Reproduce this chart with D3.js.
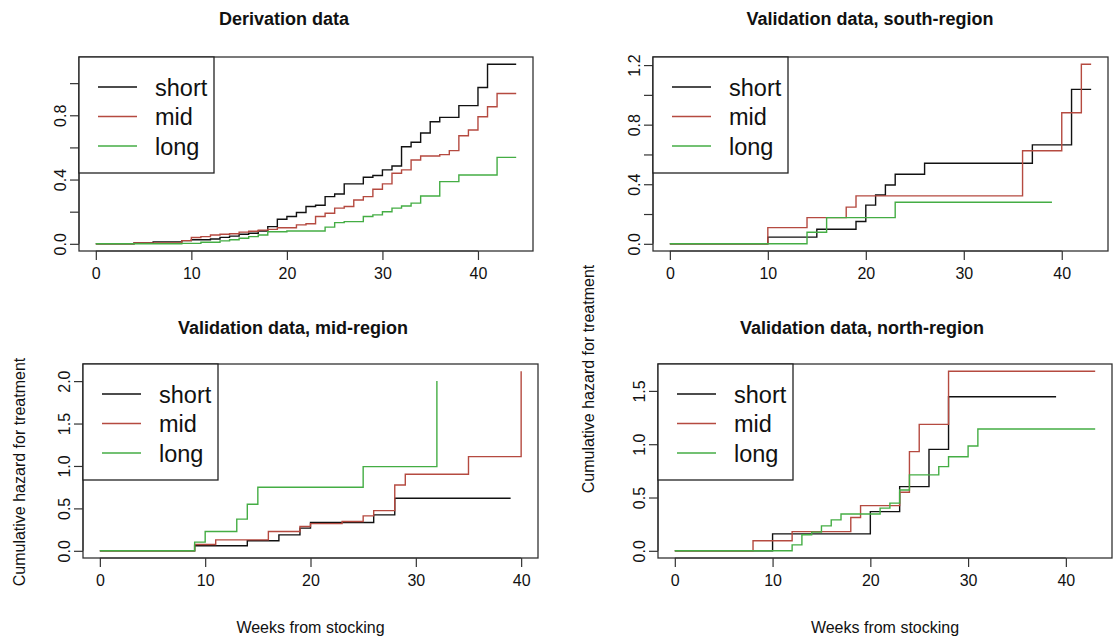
<!DOCTYPE html>
<html>
<head>
<meta charset="utf-8">
<script src="https://cdn.jsdelivr.net/npm/d3@7"></script>
<style>
  html, body { margin: 0; padding: 0; background: #fff; }
  svg text { font-family: "Liberation Sans", Arial, sans-serif; fill: #111; }
</style>
</head>
<body>
<svg id="chart" width="1115" height="642"></svg>
<script>
// Cumulative hazard step functions: [week, cumulative hazard] at each jump.
// Last entry of each series gives the follow-up end (flat to that week).
const seriesNames = ["short", "mid", "long"];
const seriesColors = ["#111111", "#b54a40", "#44ad44"];

// Derivation data
const derivShort = [[0,0],[4,0.006],[6,0.012],[9,0.02],[10,0.025],[12,0.03],[13,0.04],[14,0.048],[15,0.06],[16,0.066],[17,0.08],[18,0.107],[19,0.153],[20,0.17],[21,0.195],[22,0.232],[23,0.24],[24,0.294],[25,0.31],[26,0.373],[28,0.414],[29,0.425],[30,0.46],[31,0.484],[32,0.604],[33,0.632],[34,0.69],[35,0.76],[36,0.787],[38,0.86],[40,0.973],[41,1.118],[44,1.118]];
const derivMid = [[0,0],[4,0.006],[9,0.02],[10,0.039],[11,0.045],[12,0.055],[13,0.06],[14,0.063],[15,0.073],[16,0.078],[17,0.085],[18,0.09],[19,0.1],[21,0.118],[22,0.125],[23,0.17],[24,0.19],[25,0.222],[26,0.232],[27,0.273],[28,0.294],[29,0.34],[30,0.373],[31,0.439],[32,0.46],[33,0.522],[34,0.547],[36,0.555],[37,0.58],[38,0.673],[39,0.708],[40,0.791],[41,0.853],[42,0.936],[44,0.936]];
const derivLong = [[0,0],[9,0.003],[11,0.01],[13,0.018],[14,0.025],[15,0.035],[16,0.045],[17,0.055],[18,0.075],[20,0.08],[24,0.104],[25,0.132],[26,0.138],[28,0.17],[29,0.18],[30,0.2],[31,0.222],[32,0.235],[33,0.253],[34,0.298],[36,0.387],[38,0.428],[42,0.538],[44,0.538]];

// Validation data, south-region
const southShort = [[0,0],[10,0.045],[15,0.098],[19,0.15],[20,0.26],[21,0.328],[22,0.395],[23,0.467],[26,0.541],[37,0.664],[41,1.037],[43,1.037]];
const southMid = [[0,0],[10,0.109],[14,0.176],[18,0.246],[19,0.322],[36,0.625],[40,0.88],[42,1.206],[43,1.206]];
const southLong = [[0,0],[14,0.078],[16,0.176],[23,0.279],[39,0.279]];

// Validation data, mid-region
const midShort = [[0,0],[9,0.059],[14,0.118],[17,0.188],[19,0.267],[20,0.333],[26,0.424],[28,0.62],[39,0.62]];
const midMid = [[0,0],[9,0.075],[11,0.129],[16,0.227],[19,0.286],[20,0.32],[23,0.345],[25,0.412],[26,0.474],[28,0.776],[29,0.902],[35,1.11],[40,2.117]];
const midLong = [[0,0],[9,0.102],[10,0.227],[13,0.373],[14,0.549],[15,0.749],[25,0.992],[32,2.0]];

// Validation data, north-region
const northShort = [[0,0],[10,0.159],[20,0.368],[23,0.602],[26,0.952],[28,1.445],[39,1.445]];
const northMid = [[0,0],[8,0.094],[12,0.18],[18,0.312],[19,0.424],[23,0.55],[24,0.93],[25,1.186],[28,1.685],[43,1.685]];
const northLong = [[0,0],[12,0.056],[13,0.15],[14,0.175],[15,0.234],[16,0.29],[17,0.346],[21,0.4],[22,0.447],[23,0.571],[24,0.712],[27,0.79],[28,0.883],[30,0.983],[31,1.142],[43,1.142]];

// Axis ticks and labels per panel
const xTicks = [0, 10, 20, 30, 40];
const derivYTicks = [0, 0.2, 0.4, 0.6, 0.8, 1.0];
const derivYLabels = [0, 0.4, 0.8];
const southYTicks = [0, 0.2, 0.4, 0.6, 0.8, 1.0, 1.2];
const southYLabels = [0, 0.4, 0.8, 1.2];
const midYTicks = [0, 0.5, 1.0, 1.5, 2.0];
const northYTicks = [0, 0.5, 1.0, 1.5];

const panels = [
  { title: "Derivation data", titleX: 284, titleY: 25,
    box: { l: 79, r: 533, t: 57, b: 251 },
    series: [derivShort, derivMid, derivLong], yTicks: derivYTicks, yLabels: derivYLabels },
  { title: "Validation data, south-region", titleX: 870, titleY: 25,
    box: { l: 653, r: 1108, t: 57, b: 251 },
    series: [southShort, southMid, southLong], yTicks: southYTicks, yLabels: southYLabels },
  { title: "Validation data, mid-region", titleX: 293, titleY: 334,
    box: { l: 83, r: 538, t: 364, b: 558 },
    series: [midShort, midMid, midLong], yTicks: midYTicks, yLabels: midYTicks },
  { title: "Validation data, north-region", titleX: 862, titleY: 334,
    box: { l: 658, r: 1112, t: 364, b: 558 },
    series: [northShort, northMid, northLong], yTicks: northYTicks, yLabels: northYTicks }
];

const svg = d3.select("#chart");
const fmt = d3.format(".1f");

panels.forEach(p => {
  const { l, r, t, b } = p.box;
  const xMax = d3.max(p.series, s => d3.max(s, d => d[0]));
  const yMax = d3.max(p.series, s => d3.max(s, d => d[1]));
  // R-style 4% padding on both ends of the data range
  const x = d3.scaleLinear().domain([-0.04 * xMax, 1.04 * xMax]).range([l, r]);
  const y = d3.scaleLinear().domain([-0.04 * yMax, 1.04 * yMax]).range([b, t]);

  const g = svg.append("g");

  // step curves
  const line = d3.line().x(d => x(d[0])).y(d => y(d[1])).curve(d3.curveStepAfter);
  p.series.forEach((s, i) => {
    g.append("path").datum(s)
      .attr("d", line)
      .attr("fill", "none")
      .attr("stroke", seriesColors[i])
      .attr("stroke-width", 1.4);
  });

  // x axis
  const xAxis = d3.axisBottom(x).tickValues(xTicks).tickSize(9).tickPadding(8).tickFormat(d3.format("d"));
  const xg = g.append("g").attr("transform", `translate(0,${b})`).call(xAxis);
  xg.select(".domain").attr("d", `M${x(xTicks[0])},0H${x(xTicks[xTicks.length - 1])}`)
    .attr("stroke", "#333").attr("stroke-width", 1.2);
  xg.selectAll(".tick line").attr("stroke", "#333").attr("stroke-width", 1.2);
  xg.selectAll(".tick text").attr("font-size", 16).attr("fill", "#222");

  // y axis with rotated labels
  const yAxis = d3.axisLeft(y).tickValues(p.yTicks).tickSize(9)
    .tickFormat(d => p.yLabels.some(v => Math.abs(v - d) < 1e-9) ? fmt(d) : "");
  const yg = g.append("g").attr("transform", `translate(${l},0)`).call(yAxis);
  yg.select(".domain").attr("d", `M0,${y(p.yTicks[0])}V${y(p.yTicks[p.yTicks.length - 1])}`)
    .attr("stroke", "#333").attr("stroke-width", 1.2);
  yg.selectAll(".tick line").attr("stroke", "#333").attr("stroke-width", 1.2);
  yg.selectAll(".tick text")
    .attr("font-size", 16).attr("fill", "#222")
    .attr("text-anchor", "middle").attr("dy", 0).attr("x", 0)
    .attr("transform", "translate(-13,0) rotate(-90)");

  // plot frame
  g.append("rect").attr("x", l).attr("y", t).attr("width", r - l).attr("height", b - t)
    .attr("fill", "none").attr("stroke", "#333").attr("stroke-width", 1.3);

  // legend (top-left inside frame)
  const lg = g.append("g").attr("transform", `translate(${l},${t})`);
  lg.append("rect").attr("x", 0).attr("y", 0).attr("width", 135).attr("height", 116)
    .attr("fill", "#fff").attr("stroke", "#222").attr("stroke-width", 1.3);
  seriesNames.forEach((name, i) => {
    const yy = 30 + i * 29.5;
    lg.append("line").attr("x1", 19).attr("x2", 58).attr("y1", yy).attr("y2", yy)
      .attr("stroke", seriesColors[i]).attr("stroke-width", 1.4);
    lg.append("text").attr("x", 76).attr("y", yy + 8.5).attr("font-size", 23.5).text(name);
  });

  // title
  svg.append("text").attr("x", p.titleX).attr("y", p.titleY)
    .attr("text-anchor", "middle").attr("font-size", 18).attr("font-weight", "bold")
    .text(p.title);
});

// shared axis titles
svg.append("text").attr("transform", "translate(25,472) rotate(-90)")
  .attr("text-anchor", "middle").attr("font-size", 16).attr("fill", "#222")
  .text("Cumulative hazard for treatment");
svg.append("text").attr("transform", "translate(594,379) rotate(-90)")
  .attr("text-anchor", "middle").attr("font-size", 16).attr("fill", "#222")
  .text("Cumulative hazard for treatment");
[panels[2], panels[3]].forEach(p => {
  svg.append("text").attr("x", (p.box.l + p.box.r) / 2).attr("y", 633)
    .attr("text-anchor", "middle").attr("font-size", 16).attr("fill", "#222")
    .text("Weeks from stocking");
});
</script>
</body>
</html>
